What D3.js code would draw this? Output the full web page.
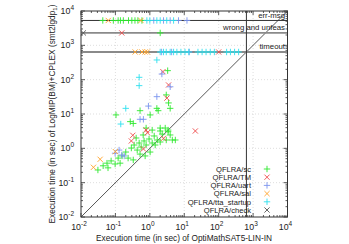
<!DOCTYPE html>
<html>
<head>
<meta charset="utf-8">
<script src="https://cdn.jsdelivr.net/npm/d3@7"></script>
<style>
  body { margin: 0; background: #fff; }
  text { font-family: "Liberation Sans", Arial, sans-serif; fill: #222; }
</style>
</head>
<body>
<div class="vis-scatter"></div>
<script>
// special result levels (seconds)
var ERR = 5300, WRONG = 2300, TIMEOUT = 640;

var seriesNames = ["QFLRA/sc", "QFLRA/TM", "QFLRA/uart", "QFLRA/sal", "QFLRA/tta_startup", "QFLRA/check"];
var seriesColors = ["#2ee82e", "#ee4a4a", "#7a94ee", "#ffa328", "#2ee0ee", "#555555"];
var seriesShapes = ["plus", "cross", "plus", "cross", "plus", "cross"];

var sc = [
  [0.031,0.234],[0.044,0.31],[0.057,0.37],[0.075,0.43],[0.098,0.35],[0.12,0.52],[0.156,0.60],
  [0.20,0.78],[0.234,0.52],[0.29,1.02],[0.35,1.25],[0.43,0.89],[0.49,1.43],[0.56,1.09],
  [0.68,1.64],[0.78,1.25],[0.95,1.87],[1.17,1.43],[1.34,2.29],[1.64,1.75],[2.0,3.2],
  [2.29,2.6],[2.8,3.9],[3.4,3.4],[3.9,2.45],[3.0,1.75],[2.0,1.53],[1.43,1.25],[4.5,1.75],
  [1.02,0.78],[0.73,0.60],[0.52,0.68],[0.33,0.46],[0.137,0.37],[0.061,0.27],[0.40,2.0],
  [0.78,3.9],[1.17,3.4],[2.0,3.9],[3.4,3.06],[5.5,1.75],[0.64,2.45],
  [0.104,9.4],[0.52,12.5],[1.02,9.4],[1.6,14.6],[1.75,12.5],[3.5,21],[3.9,14.6],
  [0.27,6.0],[0.33,5.3],[3.0,36],[3.3,183],
  [2.0,WRONG],
  [0.043,ERR],[0.087,ERR],[0.12,ERR],[0.14,ERR],[0.17,ERR],[0.24,ERR],[0.30,ERR],[0.37,ERR],[0.45,ERR],[0.59,ERR]
];
var tm = [
  [2.4,171],[3.5,70],[3.13,29],[0.78,3.4],[0.85,2.85],[0.32,2.4],[2.5,1.96],[21,3.2],
  [0.29,1.64],[0.65,0.96],[0.153,WRONG],[100,TIMEOUT]
];
var uart = [
  [2.24,146],[3.9,62],[1.6,32],[0.91,17],[0.52,7.0],[0.65,7.0],[0.098,0.72],[0.153,0.64],
  [0.18,0.60],[0.128,0.89],
  [1.3,ERR],[2.5,ERR],[3.9,ERR],[6.8,ERR],[12,ERR],
  [2.2,TIMEOUT],[4.3,TIMEOUT],[14,TIMEOUT]
];
var sal = [
  [0.036,0.48],[0.023,0.28],[0.10,0.80],
  [0.062,ERR],[0.55,ERR],
  [0.374,TIMEOUT],[0.59,TIMEOUT],[0.73,TIMEOUT],[0.85,TIMEOUT]
];
var tta = [
  [0.49,117],[0.49,67],[0.20,14.6],[0.143,5.1],[1.6,374],
  [0.82,ERR],[1.0,ERR],[1.6,ERR],[2.0,ERR],[3.1,ERR],[4.9,ERR],
  [2.0,TIMEOUT],[2.5,TIMEOUT],[3.0,TIMEOUT],[3.9,TIMEOUT],[4.9,TIMEOUT],[6.1,TIMEOUT],[8.0,TIMEOUT],
  [10.5,TIMEOUT],[13.5,TIMEOUT],[25,TIMEOUT],[33,TIMEOUT],[43,TIMEOUT],[57,TIMEOUT],[75,TIMEOUT],
  [170,TIMEOUT],[220,TIMEOUT],[290,TIMEOUT],[380,TIMEOUT]
];
var check = [
  [0.0117,WRONG]
];
var allSeries = [sc, tm, uart, sal, tta, check];

var decades = [-2, -1, 0, 1, 2, 3, 4];
var levelLabels = ["err-msg", "wrong and unfeas", "timeout"];
var levelValues = [ERR, WRONG, TIMEOUT];

var width = 349, height = 244;
var svg = d3.select(".vis-scatter").append("svg")
    .attr("width", width).attr("height", height);

var x = d3.scaleLog().domain([1e-2, 1e4]).range([81, 287.5]);
var y = d3.scaleLog().domain([1e-2, 1e4]).range([217, 11]);

// grid
var majors = decades.map(function(d){ return Math.pow(10, d); });
svg.append("g").selectAll("line.gx").data(majors.slice(1, -1)).enter().append("line")
  .attr("x1", function(d){ return x(d); }).attr("x2", function(d){ return x(d); })
  .attr("y1", y(1e-2)).attr("y2", y(1e4))
  .attr("stroke", "#c8c8c8").attr("stroke-width", 0.6).attr("stroke-dasharray", "1,2");
svg.append("g").selectAll("line.gy").data(majors.slice(1, -1)).enter().append("line")
  .attr("y1", function(d){ return y(d); }).attr("y2", function(d){ return y(d); })
  .attr("x1", x(1e-2)).attr("x2", x(1e4))
  .attr("stroke", "#c8c8c8").attr("stroke-width", 0.6).attr("stroke-dasharray", "1,2");

// ticks (inward, mirrored)
var minors = [];
decades.slice(0, -1).forEach(function(d){
  for (var k = 2; k < 10; k++) minors.push(k * Math.pow(10, d));
});
var tg = svg.append("g").attr("stroke", "#333").attr("stroke-width", 0.8);
function ticks(vals, len) {
  vals.forEach(function(v){
    tg.append("line").attr("x1", x(v)).attr("x2", x(v)).attr("y1", y(1e-2)).attr("y2", y(1e-2) - len);
    tg.append("line").attr("x1", x(v)).attr("x2", x(v)).attr("y1", y(1e4)).attr("y2", y(1e4) + len);
    tg.append("line").attr("y1", y(v)).attr("y2", y(v)).attr("x1", x(1e-2)).attr("x2", x(1e-2) + len);
    tg.append("line").attr("y1", y(v)).attr("y2", y(v)).attr("x1", x(1e4)).attr("x2", x(1e4) - len);
  });
}
ticks(majors, 4);
ticks(minors, 2);

// tick labels
function powLabel(sel, d) {
  sel.append("tspan").text("10");
  sel.append("tspan").attr("dy", -4).attr("font-size", 6.5).text(d);
}
decades.forEach(function(d){
  var v = Math.pow(10, d);
  var tx = svg.append("text").attr("x", x(v) - 2).attr("y", 230)
    .attr("text-anchor", "middle").attr("font-size", 8.8);
  powLabel(tx, d);
  var ty = svg.append("text").attr("x", 74).attr("y", y(v) + 3)
    .attr("text-anchor", "end").attr("font-size", 8.8);
  powLabel(ty, d);
});

// diagonal
svg.append("line")
  .attr("x1", x(1e-2)).attr("y1", y(1e-2)).attr("x2", x(1e4)).attr("y2", y(1e4))
  .attr("stroke", "#444").attr("stroke-width", 0.9);

// level lines
svg.append("line").attr("x1", x(1e-2)).attr("x2", x(1e4)).attr("y1", y(ERR)).attr("y2", y(ERR))
  .attr("stroke", "#333").attr("stroke-width", 1);
svg.append("line").attr("x1", x(1e-2)).attr("x2", x(1e4)).attr("y1", y(WRONG)).attr("y2", y(WRONG))
  .attr("stroke", "#8a8a8a").attr("stroke-width", 1.8);
svg.append("line").attr("x1", x(1e-2)).attr("x2", x(1e4)).attr("y1", y(TIMEOUT)).attr("y2", y(TIMEOUT))
  .attr("stroke", "#8a8a8a").attr("stroke-width", 1.8);
svg.append("line").attr("x1", x(TIMEOUT)).attr("x2", x(TIMEOUT)).attr("y1", y(1e-2)).attr("y2", y(1e4))
  .attr("stroke", "#333").attr("stroke-width", 1);

levelLabels.forEach(function(t, i){
  svg.append("text").attr("x", 285).attr("y", y(levelValues[i]) - 2.5)
    .attr("text-anchor", "end").attr("font-size", 7.8).text(t);
});

// markers
function shapePath(s) {
  return s === "plus" ? "M-3.2,0H3.2M0,-3.2V3.2" : "M-2.6,-2.6L2.6,2.6M-2.6,2.6L2.6,-2.6";
}
allSeries.forEach(function(data, i){
  svg.append("g").selectAll("path").data(data).enter().append("path")
    .attr("transform", function(d){ return "translate(" + x(d[0]) + "," + y(d[1]) + ")"; })
    .attr("d", shapePath(seriesShapes[i]))
    .attr("stroke", seriesColors[i]).attr("stroke-width", 0.9).attr("fill", "none");
});

// legend
seriesNames.forEach(function(n, i){
  var ly = 169 + i * 8.2;
  svg.append("text").attr("x", 251).attr("y", ly + 2.8).attr("text-anchor", "end")
    .attr("font-size", 7.6).text(n);
  svg.append("path").attr("transform", "translate(267," + ly + ")")
    .attr("d", shapePath(seriesShapes[i]))
    .attr("stroke", seriesColors[i]).attr("stroke-width", 0.9).attr("fill", "none");
});

// frame
svg.append("rect").attr("x", x(1e-2)).attr("y", y(1e4))
  .attr("width", x(1e4) - x(1e-2)).attr("height", y(1e-2) - y(1e4))
  .attr("fill", "none").attr("stroke", "#333").attr("stroke-width", 1);

// axis titles
svg.append("text").attr("x", 184).attr("y", 241).attr("text-anchor", "middle")
  .attr("font-size", 8.3).text("Execution time (in sec) of OptiMathSAT5-LIN-IN");
var yt = svg.append("text").attr("transform", "translate(55,114) rotate(-90)")
  .attr("text-anchor", "middle").attr("font-size", 8.3);
yt.append("tspan").text("Execution time (in sec) of LogMIP(BM)+CPLEX (smt2lgdp");
yt.append("tspan").attr("dy", 2).attr("font-size", 6).text("1");
yt.append("tspan").attr("dy", -2).text(")");
</script>
</body>
</html>
